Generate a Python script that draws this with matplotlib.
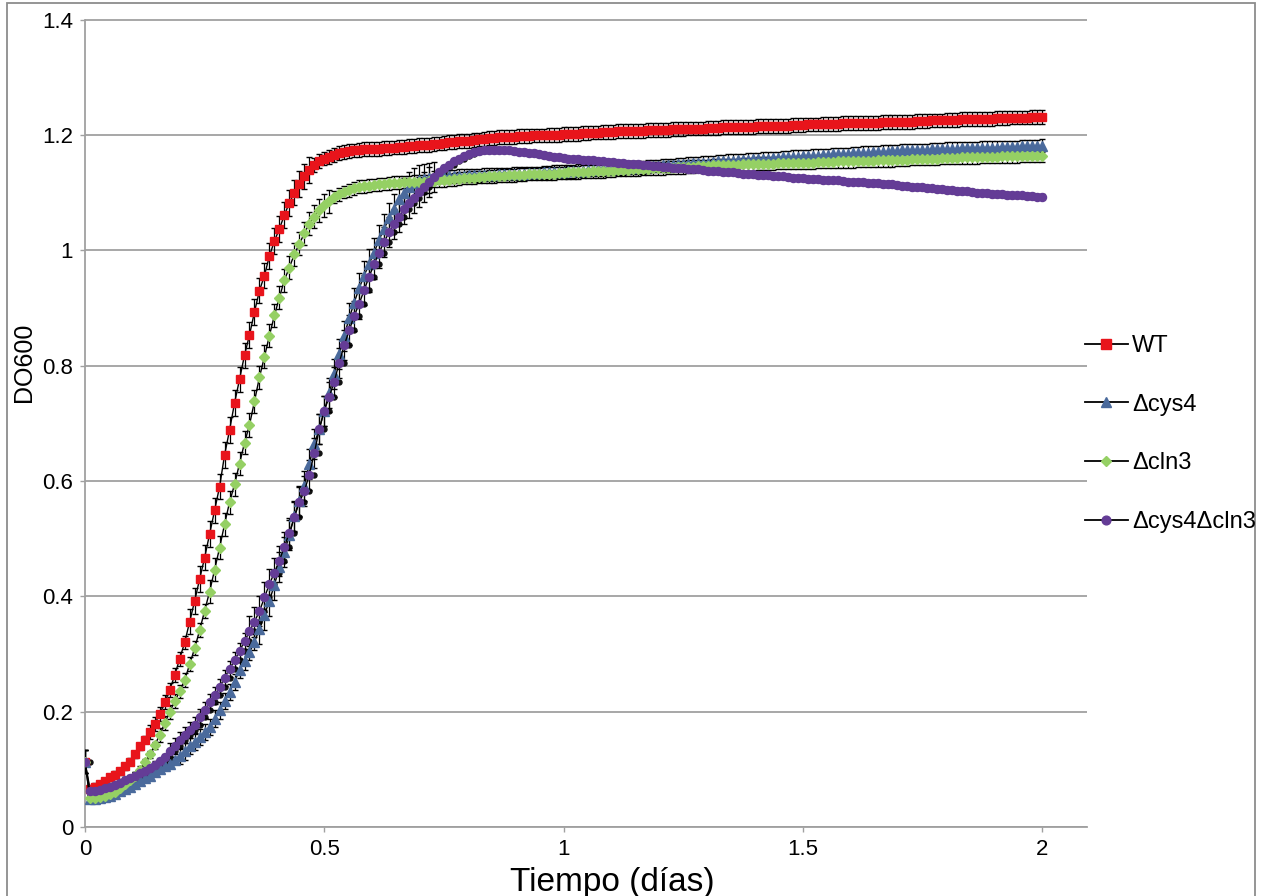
import numpy as np
import matplotlib
matplotlib.use('Agg')
import matplotlib.pyplot as plt
from matplotlib.lines import Line2D
from matplotlib.patches import Rectangle

plt.rcParams['font.family'] = ['Liberation Sans', 'DejaVu Sans']

# time in days, one reading every 15 min
tiempo = np.arange(193) / 96.0

labels = ['WT', 'Δcys4', 'Δcln3', 'Δcys4Δcln3']
colores = ['#e8141b', '#4a6a9c', '#95d064', '#643c96']
marcadores = ['s', '^', 'D', 'o']
tam_marc = [6.3, 7.0, 4.6, 5.8]

wt = [0.113, 0.066, 0.070, 0.074, 0.079, 0.086, 0.091, 0.097, 0.105, 0.113,
      0.126, 0.140, 0.151, 0.165, 0.179, 0.196, 0.216, 0.238, 0.263, 0.292,
      0.320, 0.356, 0.392, 0.430, 0.467, 0.508, 0.549, 0.590, 0.645, 0.688,
      0.735, 0.776, 0.818, 0.853, 0.893, 0.930, 0.956, 0.990, 1.016, 1.037,
      1.061, 1.082, 1.100, 1.115, 1.128, 1.139, 1.148, 1.154, 1.159, 1.162,
      1.165, 1.168, 1.170, 1.172, 1.173, 1.174, 1.175, 1.175, 1.176, 1.176,
      1.177, 1.177, 1.178, 1.179, 1.179, 1.180, 1.181, 1.182, 1.183, 1.183,
      1.184, 1.185, 1.186, 1.187, 1.188, 1.189, 1.189, 1.190, 1.191, 1.192,
      1.193, 1.194, 1.195, 1.196, 1.196, 1.197, 1.197, 1.198, 1.198, 1.198,
      1.199, 1.199, 1.199, 1.200, 1.200, 1.200, 1.201, 1.201, 1.202, 1.202,
      1.203, 1.203, 1.204, 1.204, 1.205, 1.205, 1.205, 1.206, 1.206, 1.206,
      1.207, 1.207, 1.207, 1.208, 1.208, 1.209, 1.209, 1.209, 1.210, 1.210,
      1.210, 1.211, 1.211, 1.211, 1.211, 1.212, 1.212, 1.212, 1.213, 1.213,
      1.213, 1.213, 1.214, 1.214, 1.214, 1.215, 1.215, 1.215, 1.216, 1.216,
      1.216, 1.216, 1.217, 1.217, 1.217, 1.218, 1.218, 1.218, 1.219, 1.219,
      1.219, 1.219, 1.220, 1.220, 1.220, 1.220, 1.221, 1.221, 1.221, 1.221,
      1.222, 1.222, 1.222, 1.222, 1.223, 1.223, 1.223, 1.224, 1.224, 1.224,
      1.225, 1.225, 1.225, 1.226, 1.226, 1.226, 1.227, 1.227, 1.227, 1.228,
      1.228, 1.228, 1.228, 1.229, 1.229, 1.229, 1.230, 1.230, 1.230, 1.230,
      1.231, 1.231, 1.231]

cys4 = [0.113, 0.048, 0.049, 0.050, 0.052, 0.054, 0.058, 0.062, 0.066, 0.070,
        0.075, 0.080, 0.085, 0.089, 0.095, 0.100, 0.105, 0.110, 0.116, 0.123,
        0.131, 0.140, 0.148, 0.156, 0.164, 0.174, 0.188, 0.202, 0.218, 0.234,
        0.252, 0.272, 0.287, 0.303, 0.321, 0.343, 0.368, 0.392, 0.420, 0.450,
        0.477, 0.506, 0.539, 0.566, 0.592, 0.630, 0.664, 0.690, 0.721, 0.752,
        0.785, 0.820, 0.852, 0.882, 0.909, 0.934, 0.956, 0.976, 0.996, 1.018,
        1.037, 1.055, 1.072, 1.088, 1.100, 1.110, 1.117, 1.121, 1.124, 1.125,
        1.126, 1.127, 1.127, 1.128, 1.128, 1.129, 1.129, 1.130, 1.130, 1.130,
        1.131, 1.131, 1.131, 1.132, 1.132, 1.132, 1.133, 1.133, 1.133, 1.134,
        1.134, 1.134, 1.135, 1.135, 1.136, 1.136, 1.136, 1.137, 1.137, 1.138,
        1.138, 1.139, 1.139, 1.140, 1.140, 1.141, 1.141, 1.142, 1.142, 1.143,
        1.143, 1.144, 1.144, 1.145, 1.146, 1.146, 1.147, 1.147, 1.148, 1.149,
        1.149, 1.150, 1.151, 1.151, 1.152, 1.152, 1.153, 1.154, 1.154, 1.155,
        1.155, 1.156, 1.156, 1.157, 1.158, 1.158, 1.159, 1.159, 1.160, 1.160,
        1.161, 1.161, 1.162, 1.162, 1.163, 1.163, 1.164, 1.164, 1.165, 1.165,
        1.166, 1.166, 1.167, 1.167, 1.168, 1.168, 1.169, 1.169, 1.170, 1.170,
        1.171, 1.171, 1.172, 1.172, 1.173, 1.173, 1.173, 1.174, 1.174, 1.174,
        1.175, 1.175, 1.175, 1.176, 1.176, 1.176, 1.177, 1.177, 1.177, 1.177,
        1.178, 1.178, 1.178, 1.178, 1.179, 1.179, 1.179, 1.179, 1.180, 1.180,
        1.180, 1.180, 1.181]

cln3 = [0.113, 0.050, 0.050, 0.052, 0.054, 0.057, 0.061, 0.068, 0.075, 0.082,
        0.089, 0.099, 0.112, 0.126, 0.142, 0.160, 0.180, 0.200, 0.218, 0.235,
        0.255, 0.282, 0.310, 0.341, 0.375, 0.408, 0.446, 0.484, 0.525, 0.563,
        0.594, 0.630, 0.666, 0.697, 0.738, 0.780, 0.815, 0.852, 0.887, 0.918,
        0.948, 0.970, 0.993, 1.011, 1.029, 1.046, 1.058, 1.069, 1.078, 1.085,
        1.092, 1.097, 1.101, 1.104, 1.107, 1.110, 1.111, 1.112, 1.113, 1.114,
        1.115, 1.116, 1.117, 1.117, 1.118, 1.118, 1.119, 1.119, 1.119, 1.120,
        1.120, 1.121, 1.121, 1.122, 1.123, 1.124, 1.125, 1.126, 1.126, 1.127,
        1.127, 1.128, 1.128, 1.129, 1.129, 1.130, 1.130, 1.131, 1.131, 1.132,
        1.132, 1.132, 1.133, 1.133, 1.133, 1.134, 1.134, 1.135, 1.135, 1.135,
        1.136, 1.136, 1.137, 1.137, 1.137, 1.138, 1.138, 1.139, 1.139, 1.139,
        1.140, 1.140, 1.141, 1.141, 1.142, 1.142, 1.142, 1.143, 1.143, 1.144,
        1.144, 1.145, 1.145, 1.146, 1.146, 1.146, 1.147, 1.147, 1.147, 1.148,
        1.148, 1.148, 1.149, 1.149, 1.149, 1.150, 1.150, 1.150, 1.150, 1.151,
        1.151, 1.151, 1.151, 1.152, 1.152, 1.152, 1.152, 1.153, 1.153, 1.153,
        1.153, 1.154, 1.154, 1.154, 1.154, 1.155, 1.155, 1.155, 1.155, 1.156,
        1.156, 1.156, 1.156, 1.157, 1.157, 1.157, 1.158, 1.158, 1.158, 1.159,
        1.159, 1.159, 1.160, 1.160, 1.160, 1.160, 1.161, 1.161, 1.161, 1.161,
        1.162, 1.162, 1.162, 1.162, 1.163, 1.163, 1.163, 1.163, 1.164, 1.164,
        1.164, 1.164, 1.164]

cys4cln3 = [0.113, 0.062, 0.063, 0.065, 0.067, 0.070, 0.073, 0.077, 0.081, 0.085,
            0.089, 0.093, 0.097, 0.102, 0.108, 0.114, 0.121, 0.131, 0.140, 0.150,
            0.159, 0.168, 0.177, 0.190, 0.203, 0.216, 0.228, 0.242, 0.259, 0.274,
            0.289, 0.305, 0.322, 0.339, 0.356, 0.374, 0.398, 0.421, 0.441, 0.462,
            0.486, 0.510, 0.537, 0.563, 0.582, 0.611, 0.648, 0.690, 0.722, 0.746,
            0.772, 0.805, 0.835, 0.861, 0.886, 0.907, 0.931, 0.954, 0.976, 0.996,
            1.014, 1.031, 1.046, 1.058, 1.071, 1.081, 1.091, 1.101, 1.110, 1.119,
            1.127, 1.135, 1.142, 1.148, 1.154, 1.159, 1.164, 1.167, 1.170, 1.172,
            1.173, 1.174, 1.174, 1.174, 1.173, 1.173, 1.172, 1.171, 1.170, 1.169,
            1.168, 1.166, 1.165, 1.163, 1.162, 1.161, 1.160, 1.159, 1.159, 1.158,
            1.157, 1.156, 1.156, 1.155, 1.154, 1.153, 1.153, 1.152, 1.151, 1.150,
            1.150, 1.149, 1.148, 1.147, 1.146, 1.146, 1.145, 1.144, 1.143, 1.142,
            1.142, 1.141, 1.140, 1.140, 1.139, 1.138, 1.138, 1.137, 1.136, 1.135,
            1.135, 1.134, 1.133, 1.133, 1.132, 1.131, 1.131, 1.130, 1.129, 1.128,
            1.128, 1.127, 1.126, 1.126, 1.125, 1.124, 1.124, 1.123, 1.122, 1.122,
            1.121, 1.121, 1.120, 1.119, 1.119, 1.118, 1.118, 1.117, 1.116, 1.116,
            1.115, 1.115, 1.114, 1.113, 1.112, 1.111, 1.110, 1.110, 1.109, 1.108,
            1.107, 1.106, 1.106, 1.105, 1.104, 1.103, 1.103, 1.102, 1.101, 1.100,
            1.100, 1.099, 1.098, 1.098, 1.097, 1.096, 1.096, 1.095, 1.095, 1.094,
            1.094, 1.093, 1.093]

# error bar sizes, read per growth phase (value, number of readings)
err_wt = np.repeat([0.02, 0.006, 0.012, 0.022, 0.012], [1, 12, 8, 25, 147])
err_cys4 = np.repeat([0.02, 0.006, 0.014, 0.026, 0.011], [1, 18, 16, 35, 123])
err_cln3 = np.repeat([0.02, 0.006, 0.012, 0.02, 0.011], [1, 14, 10, 25, 143])
err_doble = np.repeat([0.02, 0.006, 0.014, 0.026, 0.005], [1, 16, 16, 38, 122])

series = [wt, cys4, cln3, cys4cln3]
errores = [err_wt, err_cys4, err_cln3, err_doble]

fig = plt.figure(figsize=(12.65, 8.96), dpi=100)
ax = fig.add_axes([85/1265, 1 - 827/896, 1002/1265, 807.5/896])

gris = '#a0a0a0'

# black replicate that runs just behind the double mutant
ax.plot(tiempo[1:], cys4cln3[:-1], linestyle='none', marker='o', markersize=3.6,
        color='#111111', zorder=2)

for y, e, c, m, ms in zip(series, errores, colores, marcadores, tam_marc):
    ax.errorbar(tiempo, y, yerr=e, color='k', linewidth=1.0, marker=m, markersize=ms,
                markerfacecolor=c, markeredgecolor=c, ecolor='k', elinewidth=0.9,
                capsize=2.5, capthick=1.0, zorder=3)

ax.set_xlim(0, 2.094)
ax.set_ylim(0, 1.4)
ax.set_xticks([0, 0.5, 1, 1.5, 2])
ax.set_xticklabels(['0', '0.5', '1', '1.5', '2'])
ax.set_yticks([0, 0.2, 0.4, 0.6, 0.8, 1.0, 1.2, 1.4])
ax.set_yticklabels(['0', '0.2', '0.4', '0.6', '0.8', '1', '1.2', '1.4'])
ax.yaxis.grid(True, color=gris, linewidth=1.3)
ax.set_axisbelow(True)
for s in ['top', 'right']:
    ax.spines[s].set_visible(False)
for s in ['left', 'bottom']:
    ax.spines[s].set_color(gris)
    ax.spines[s].set_linewidth(1.3)
ax.tick_params(axis='both', direction='out', length=3.5, width=1, color=gris,
               labelsize=16, pad=5)

fig.text(612/1265, 5/896, 'Tiempo (días)', ha='center', va='baseline', fontsize=24)
fig.text(24/1265, 1 - 362/896, 'DO600', ha='center', va='center', rotation=90, fontsize=18)

handles = [Line2D([], [], color='k', linewidth=1.3, marker=m, markersize=ms + 0.5,
                  markerfacecolor=c, markeredgecolor=c)
           for c, m, ms in zip(colores, marcadores, tam_marc)]
fig.legend(handles, labels, loc='center left', bbox_to_anchor=(1085/1265, 1 - 434/896),
           frameon=False, fontsize=17, handlelength=1.8, handletextpad=0.2,
           labelspacing=1.55, borderpad=0, borderaxespad=0)

# grey frame around the whole chart
fig.patches.append(Rectangle((7/1265, -0.02), 1248/1265, 1.02 - 3.5/896, fill=False,
                             edgecolor='#8c8c8c', linewidth=1.3,
                             transform=fig.transFigure, figure=fig))

fig.savefig('out.png', dpi=100)
